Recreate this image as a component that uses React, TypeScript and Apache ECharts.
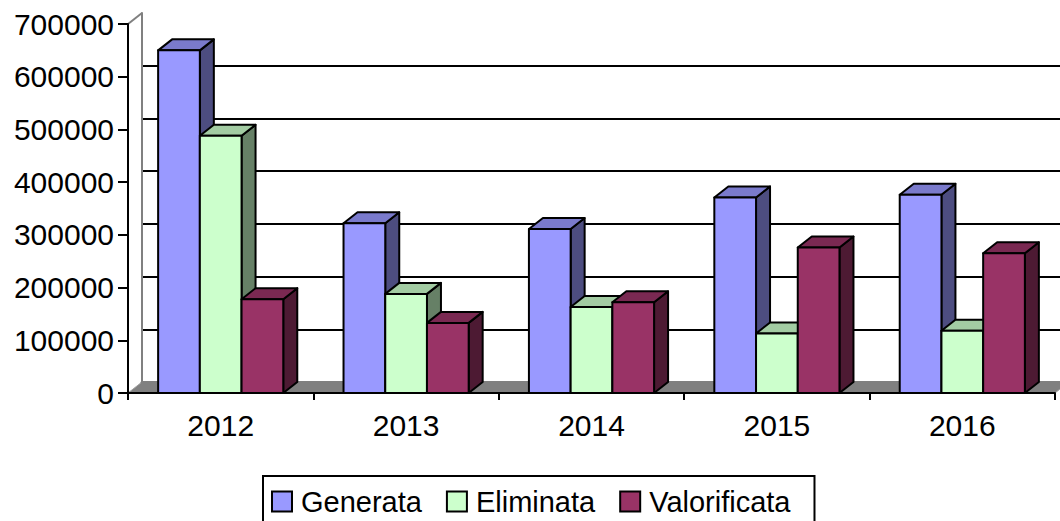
import React, { useEffect, useRef } from "react";
import * as echarts from "echarts";

const categories = ["2012", "2013", "2014", "2015", "2016"];
const generata = [650000, 322000, 311000, 371000, 376000];
const eliminata = [488000, 188000, 163000, 113000, 118000];
const valorificata = [178000, 133000, 172000, 276000, 265000];
const seriesNames = ["Generata", "Eliminata", "Valorificata"];
const yTicks = { min: 0, max: 700000, interval: 100000 };

const FRONT = ["#9999FF", "#CCFFCC", "#993366"];
const TOP = ["#7A7ACC", "#A3CCA3", "#7A2952"];
const SIDE = ["#4D4D80", "#668066", "#4D1A33"];

const DX = 14;
const DY = -11;
const G_LEFT = 128;
const G_TOP = 24;
const G_RIGHT = 5;
const G_BOTTOM = 128;
const W = 1060;
const H = 521;
const FONT = "'Liberation Sans', Arial, sans-serif";

function makeRender(si: number) {
  return (params: any, api: any) => {
    const cat = api.value(0);
    const val = api.value(1);
    const base = api.coord([cat, 0]);
    const top = api.coord([cat, val]);
    const catW = api.size([1, 0])[0];
    const bw = catW * 0.225;
    const x0 = base[0] - 1.5 * bw + si * bw;
    const x1 = x0 + bw;
    const ty = top[1];
    const by = base[1];
    const stroke = { stroke: "#000", lineWidth: 2, lineJoin: "round" };
    return {
      type: "group",
      children: [
        {
          type: "polygon",
          shape: { points: [[x1, ty], [x1 + DX, ty + DY], [x1 + DX, by + DY], [x1, by]] },
          style: { fill: SIDE[si], ...stroke },
        },
        {
          type: "polygon",
          shape: { points: [[x0, ty], [x0 + DX, ty + DY], [x1 + DX, ty + DY], [x1, ty]] },
          style: { fill: TOP[si], ...stroke },
        },
        {
          type: "rect",
          shape: { x: x0, y: ty, width: bw, height: by - ty },
          style: { fill: FRONT[si], ...stroke },
        },
      ],
    };
  };
}

export default function App() {
  const ref = useRef<HTMLDivElement>(null);
  useEffect(() => {
    document.body.style.margin = "0";
    const chart = echarts.init(ref.current!, undefined, { renderer: "svg" });
    const allData = [generata, eliminata, valorificata];
    const fy = H - G_BOTTOM;
    const fx1 = W - G_RIGHT;
    const option: any = {
      animation: false,
      backgroundColor: "#fff",
      textStyle: { fontFamily: FONT },
      grid: [
        { left: G_LEFT, top: G_TOP, right: G_RIGHT, bottom: G_BOTTOM },
        { left: G_LEFT + DX, top: G_TOP + DY, right: G_RIGHT - DX, bottom: G_BOTTOM - DY },
      ],
      xAxis: [
        {
          type: "category",
          gridIndex: 0,
          data: categories,
          boundaryGap: true,
          axisLine: { show: true, lineStyle: { color: "#000", width: 2 } },
          axisTick: { show: true, length: 7, lineStyle: { color: "#000", width: 2 } },
          axisLabel: { fontSize: 30, color: "#000", margin: 17, fontFamily: FONT },
          z: 3,
        },
        {
          type: "category",
          gridIndex: 1,
          data: categories,
          position: "top",
          axisLine: { show: true, lineStyle: { color: "#808080", width: 3 } },
          axisTick: { show: false },
          axisLabel: { show: false },
          splitLine: { show: false },
        },
      ],
      yAxis: [
        {
          type: "value",
          gridIndex: 0,
          ...yTicks,
          axisLine: { show: true, lineStyle: { color: "#000", width: 2 } },
          axisTick: { show: true, length: 10, lineStyle: { color: "#000", width: 2 } },
          axisLabel: {
            fontSize: 30,
            color: "#000",
            margin: 14,
            fontFamily: FONT,
            formatter: (v: number) => String(v),
          },
          splitLine: { show: false },
          z: 3,
        },
        {
          type: "value",
          gridIndex: 1,
          ...yTicks,
          axisLine: { show: true, lineStyle: { color: "#808080", width: 2 } },
          axisTick: { show: false },
          axisLabel: { show: false },
          splitLine: {
            show: true,
            lineStyle: {
              width: 2,
              color: [
                "rgba(0,0,0,0)",
                "#000",
                "#000",
                "#000",
                "#000",
                "#000",
                "#000",
                "rgba(0,0,0,0)",
              ],
            },
          },
        },
      ],
      legend: {
        left: 263,
        top: 476,
        orient: "horizontal",
        icon: "rect",
        itemWidth: 20,
        itemHeight: 20,
        itemGap: 24,
        padding: [11, 24, 40, 8],
        borderColor: "#000",
        borderWidth: 2,
        itemStyle: { borderColor: "#000", borderWidth: 2 },
        textStyle: { fontSize: 29, color: "#000", fontFamily: FONT, padding: [0, 0, 0, 4] },
        data: seriesNames,
      },
      graphic: {
        elements: [
          {
            type: "polygon",
            z: -1,
            shape: {
              points: [
                [G_LEFT, fy],
                [G_LEFT + DX, fy + DY],
                [fx1 + DX, fy + DY],
                [fx1, fy],
              ],
            },
            style: { fill: "#808080", stroke: "#a0a0a0", lineWidth: 1 },
          },
          {
            type: "line",
            z: -1,
            shape: { x1: G_LEFT, y1: G_TOP, x2: G_LEFT + DX, y2: G_TOP + DY },
            style: { stroke: "#808080", lineWidth: 2 },
          },
        ],
      },
      series: seriesNames.map((name, si) => ({
        name,
        type: "custom",
        xAxisIndex: 0,
        yAxisIndex: 0,
        itemStyle: { color: FRONT[si] },
        encode: { x: 0, y: 1 },
        clip: false,
        renderItem: makeRender(si),
        data: allData[si].map((v, i) => [i, v]),
      })),
    };
    chart.setOption(option);
    return () => chart.dispose();
  }, []);
  return (
    <div
      ref={ref}
      style={{ position: "fixed", left: 0, top: 0, width: W, height: H }}
    />
  );
}
